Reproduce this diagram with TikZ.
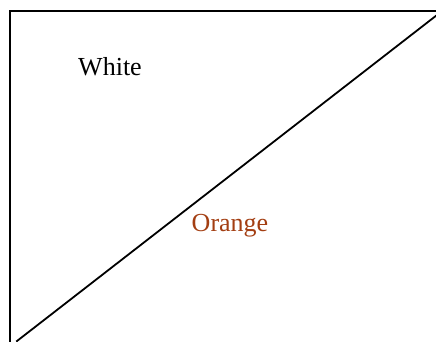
\documentclass[tikz,border=0pt]{standalone}
\usepackage{fontspec}
\setmainfont{Liberation Serif}
\definecolor{orangetext}{RGB}{163,62,18}
\tikzset{
  edge/.style={line width=1.8pt, line cap=rect},
  lbl/.style={anchor=base, inner sep=0pt, font=\fontsize{26}{30}\selectfont}
}
\begin{document}
\begin{tikzpicture}[x=1pt,y=-1pt]
\useasboundingbox (0,0) rectangle (436,341);
\begin{scope}
\clip (0,0) rectangle (436,341);
\coordinate (tl) at (10,11);
\coordinate (tr) at (440,11);
\coordinate (bl) at (10,345);
\coordinate (d1) at (17,341);
\coordinate (d2) at (437,15);
\draw[edge] (tr) -- (tl) -- (bl);
\draw[edge] (d1) -- (d2);
\end{scope}
\node[lbl] (white) at (110,75) {White};
\node[lbl, text=orangetext] (orange) at (230,231) {Orange};
\end{tikzpicture}
\end{document}
